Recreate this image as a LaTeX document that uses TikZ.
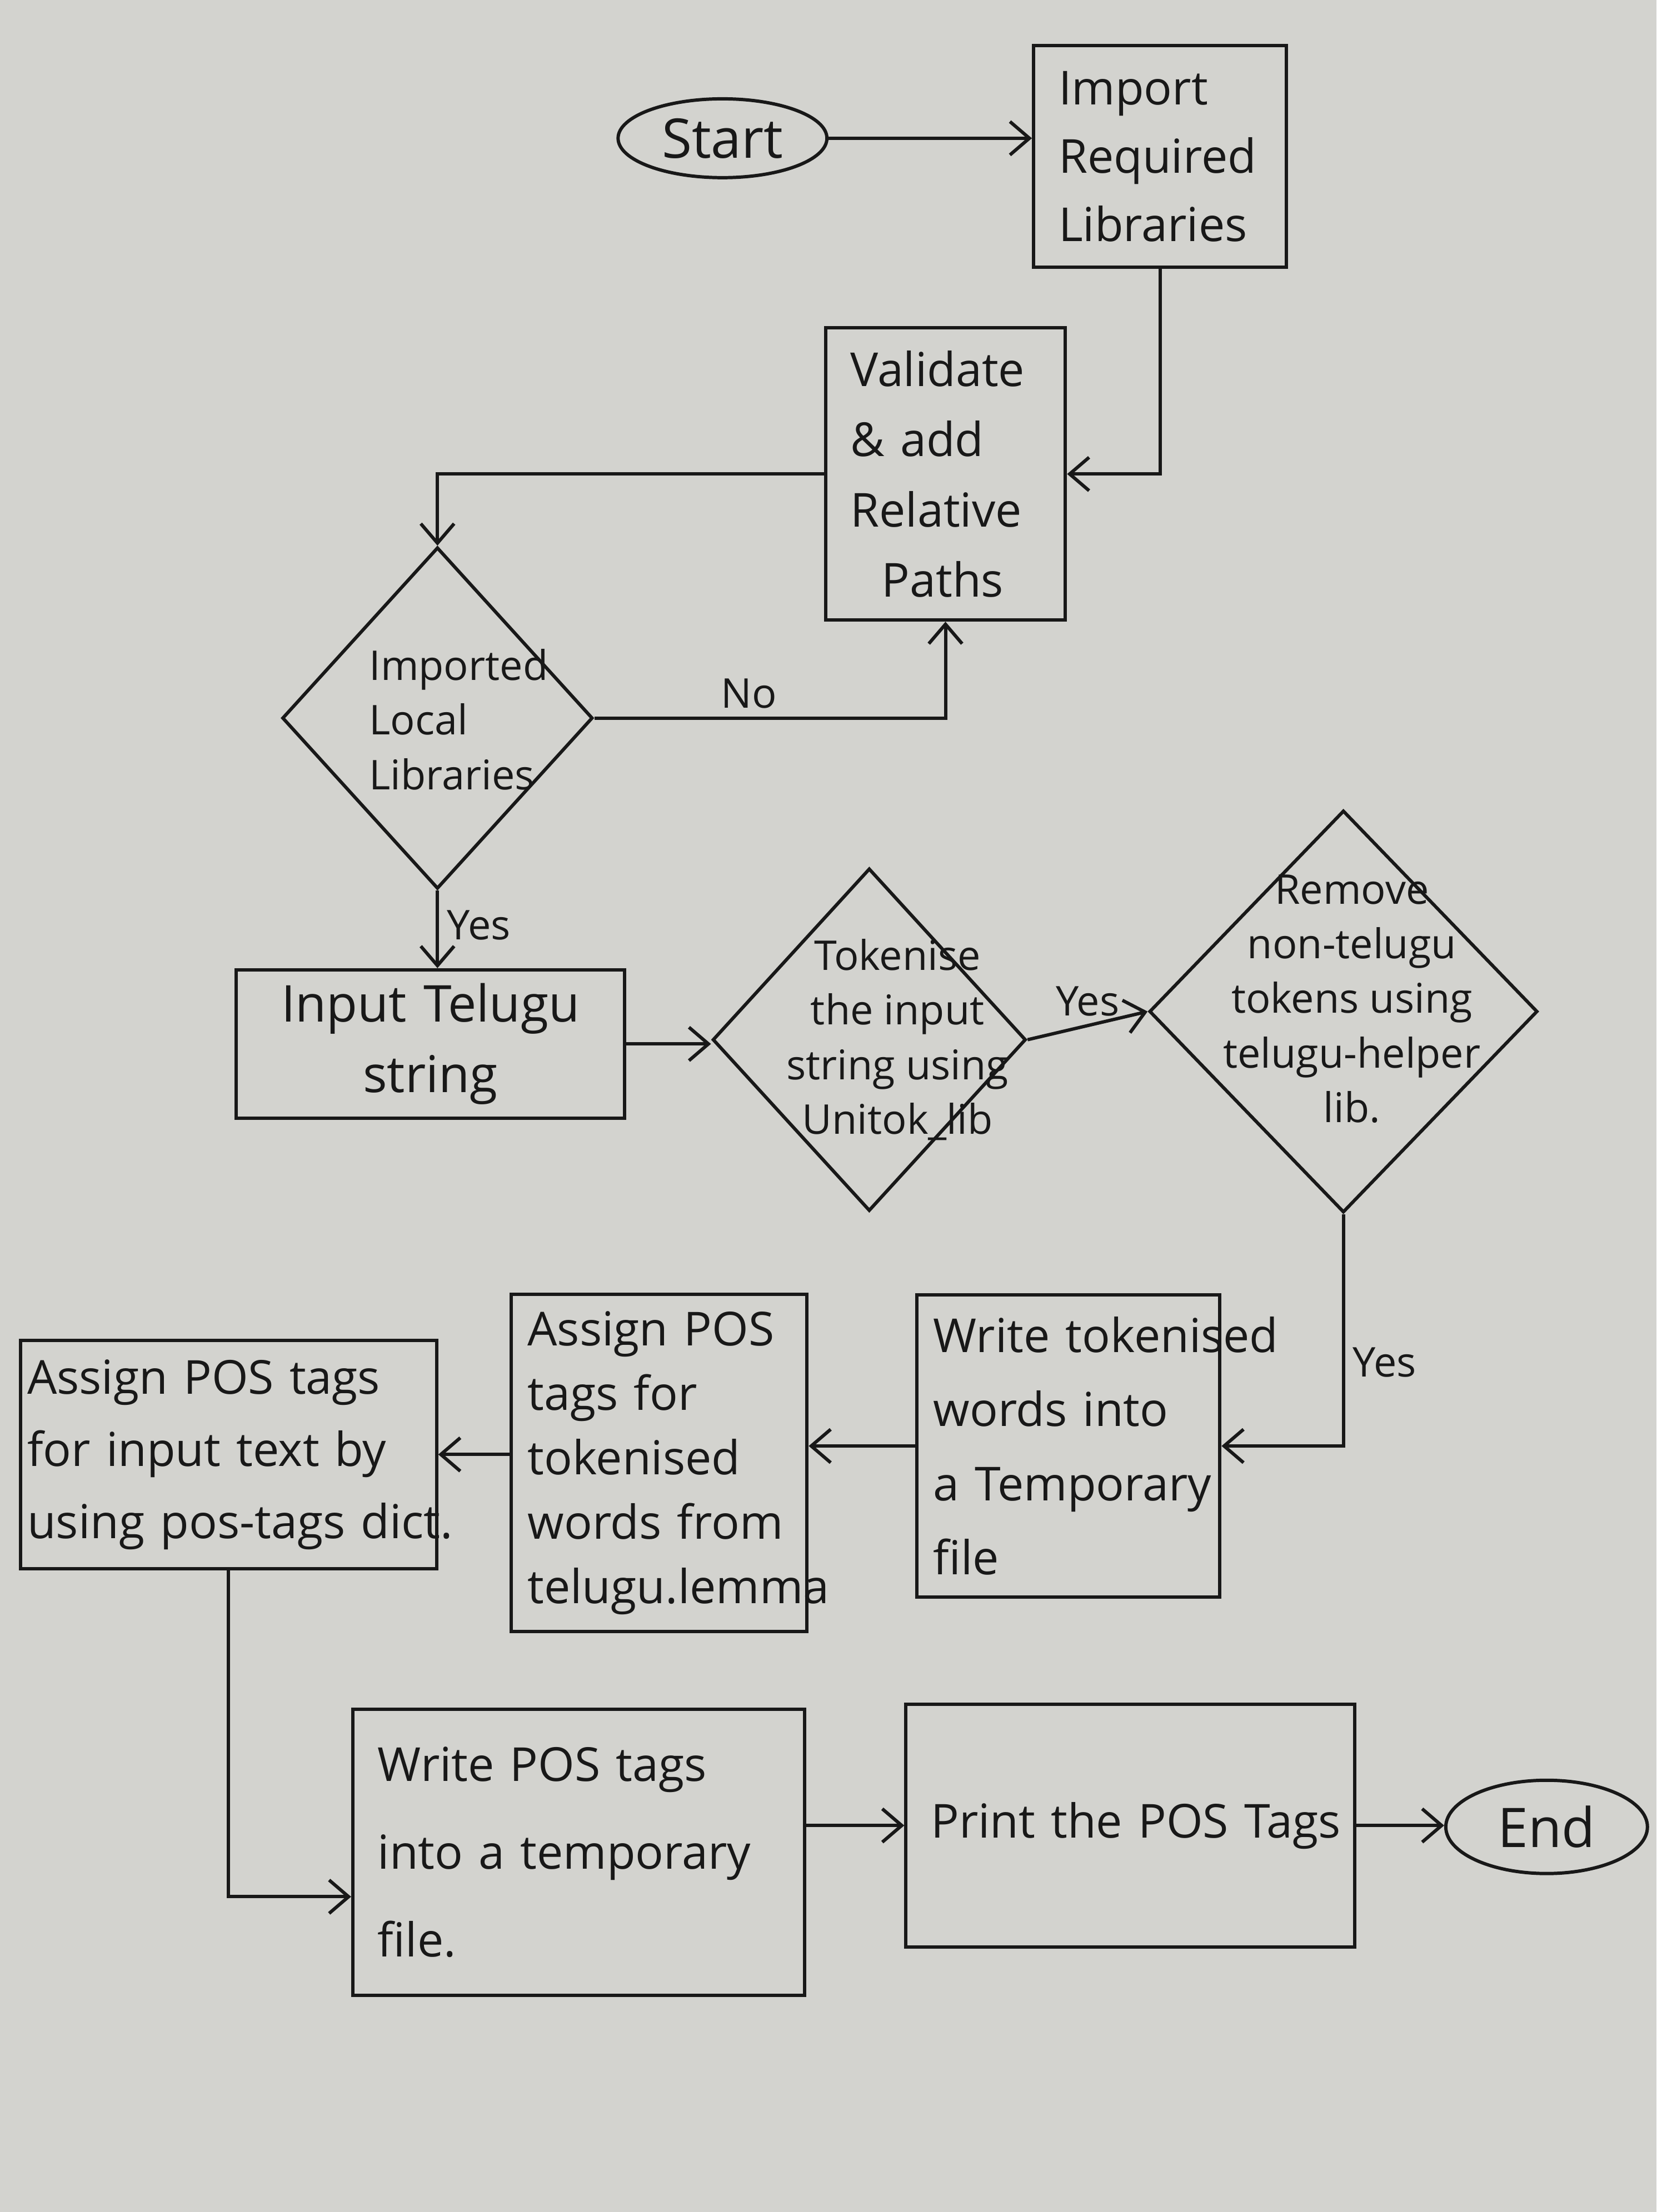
\documentclass[tikz,border=0pt]{standalone}
\usepackage{fontspec}
\setmainfont{Open Sans}
\usepackage{tikz}
\usetikzlibrary{
  arrows.meta,
  positioning,
  shapes.geometric
}
\hyphenpenalty=10000
\exhyphenpenalty=10000
\definecolor{paper}{RGB}{211,211,207}
\definecolor{ink}{RGB}{24,24,24}
\tikzset{
  procbox/.style={
    draw=ink,
    line width=1.7pt,
    inner xsep=0.45cm,
    inner ysep=6pt,
    align=left,
    text=ink,
    font=\fontsize{24}{36}\selectfont,
  },
  decision/.style={
    draw=ink,
    diamond,
    line width=1.7pt,
    inner sep=0pt,
  },
  decitext/.style={
    align=center,
    text=ink,
    inner sep=0pt,
    font=\fontsize{21}{28}\selectfont,
  },
  terminal/.style={
    draw=ink,
    ellipse,
    line width=1.7pt,
    inner sep=0pt,
    text=ink,
  },
  arr/.style={
    -{Straight Barb[length=3.5mm, width=6mm]},
    line width=1.7pt,
    draw=ink,
  },
  lbl/.style={
    font=\fontsize{21}{24}\selectfont,
    text=ink,
    inner sep=4pt,
  },
}

\begin{document}
\begin{tikzpicture}[x=0.0254cm, y=-0.0254cm]
  \fill[paper] (0,0) rectangle (1174,1568);
  \useasboundingbox (0,0) rectangle (1174,1568);

  % --- Start, import and path check (top) ---
  \node[terminal, minimum width=3.76cm, minimum height=1.42cm, font=\fontsize{28}{32}\selectfont] (start) at (512,98) {Start};
  \node[procbox, text width=3.65cm, minimum height=3.99cm, font=\fontsize{24}{35}\selectfont] (import) at (822,111) {Import\\Required\\Libraries};
  \node[procbox, text width=3.42cm, minimum height=5.26cm] (validate) at (670,336) {Validate\\\& add\\Relative\\\ \ Paths};

  \node[decision, minimum width=5.59cm, minimum height=6.15cm] (imported) at (310,509) {};
  \node[decitext, align=left] (imported-txt) at (325,510) {Imported\\Local\\Libraries};

  \draw[arr] (start.east) -- (start.east -| import.west);
  \draw[arr] (import.south) |- (validate.east);
  \draw[arr] (validate.west) -| (imported.north);
  \draw[arr] (imported.east) -| node[lbl, pos=0.22, above] {No} (validate.south);

  % --- Input and tokenising (middle) ---
  \node[procbox, align=center, text width=6.09cm, minimum height=2.67cm, font=\fontsize{26}{36}\selectfont] (input) at (305,740) {Input Telugu\\string};

  \node[decision, minimum width=5.64cm, minimum height=6.17cm] (tokenise) at (616,737) {};
  \node[decitext] (tokenise-txt) at (636,737) {Tokenise\\the input\\string using\\Unitok\_lib};

  \node[decision, minimum width=6.99cm, minimum height=7.24cm] (remove) at (952,717) {};
  \node[decitext] (remove-txt) at (958,708) {Remove\\non-telugu\\tokens using\\telugu-helper\\lib.};

  \draw[arr] (imported.south) -- node[lbl, right, pos=0.45] {Yes} (imported.south |- input.north);
  \draw[arr] (input.east) -- (input.east -| tokenise.west);
  \draw[arr] (tokenise.east) -- node[lbl, above] {Yes} (remove.west);

  % --- Tagging (lower row, right-to-left) ---
  \node[procbox, inner xsep=0.3cm, text width=4.86cm, minimum height=5.44cm, font=\fontsize{24}{38}\selectfont] (writetok) at (757,1025) {\mbox{Write tokenised}\\words into\\\mbox{a Temporary}\\file};
  \node[procbox, inner xsep=0.3cm, text width=4.73cm, minimum height=6.07cm, font=\fontsize{24}{33}\selectfont] (assignlem) at (467,1037) {Assign POS\\tags for\\tokenised\\words from\\\mbox{telugu.lemma}};
  \node[procbox, inner xsep=0.12cm, text width=7.25cm, minimum height=4.11cm, font=\fontsize{24}{37}\selectfont] (assigndict) at (162,1031) {Assign POS tags\\for input text by\\\mbox{using pos-tags dict.}};

  \draw[arr] (remove.south) |- node[lbl, right, pos=0.32] {Yes} (writetok.east);
  \draw[arr] (writetok.west) -- (writetok.west -| assignlem.east);
  \draw[arr] (assignlem.west |- assigndict.east) -- (assigndict.east);

  % --- Output (bottom) ---
  \node[procbox, text width=7.23cm, minimum height=5.16cm, font=\fontsize{24}{45}\selectfont] (writepos) at (410,1313) {Write POS tags\\into a temporary\\file.};
  \node[procbox, text width=7.18cm, minimum height=4.37cm] (print) at (801,1294) {\mbox{Print the POS Tags}};
  \node[terminal, minimum width=3.63cm, minimum height=1.68cm, font=\fontsize{28}{32}\selectfont] (end) at (1096,1295) {End};

  \draw[arr] (assigndict.south) |- ([yshift=-0.8cm]writepos.west);
  \draw[arr] (writepos.east |- print.west) -- (print.west);
  \draw[arr] (print.east) -- (print.east -| end.west);
\end{tikzpicture}
\end{document}
